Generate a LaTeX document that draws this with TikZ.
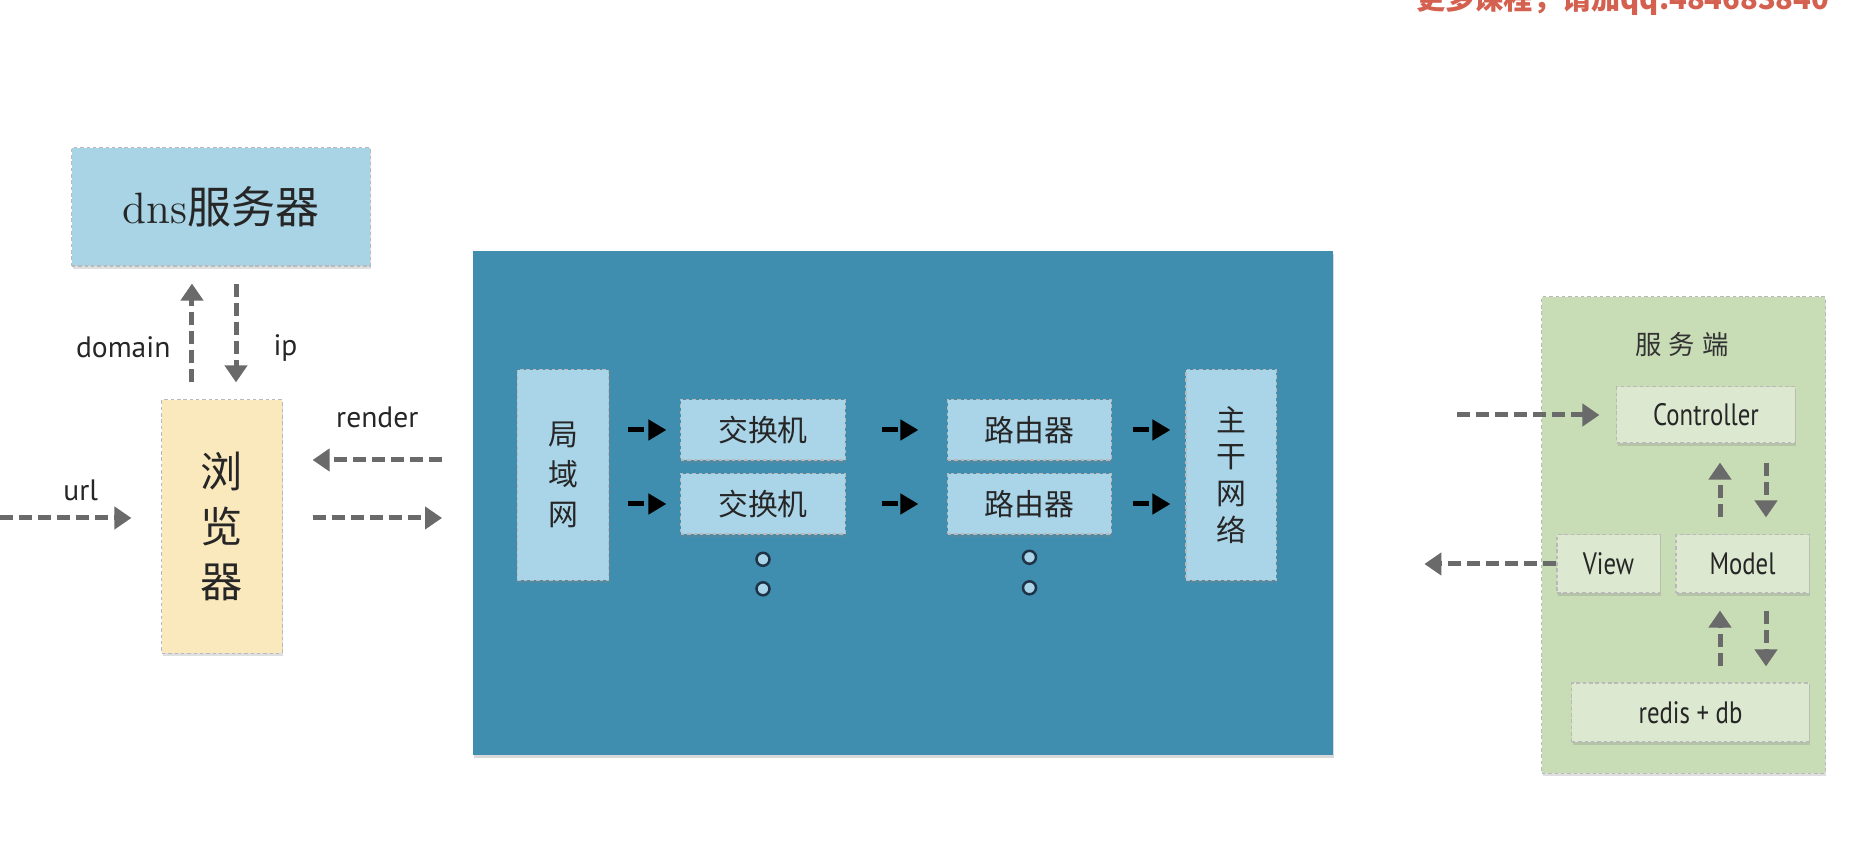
\documentclass[tikz,border=0pt]{standalone}
\usepackage{fontspec}
\newfontfamily\cjk{Noto Sans CJK SC}
\newfontfamily\lbl{PT Sans}
\newfontfamily\cond[FakeStretch=0.8]{PT Sans}
\definecolor{dnsblue}{HTML}{A8D4E6}
\definecolor{lanblue}{HTML}{AAD5E9}
\definecolor{netblue}{HTML}{408EAF}
\definecolor{browseryellow}{HTML}{FBE9BE}
\definecolor{servergreen}{HTML}{C8DCB5}
\definecolor{modulegreen}{HTML}{DCE8D0}
\definecolor{arrowgray}{HTML}{6A6A6A}
\definecolor{dotedge}{HTML}{1F3346}
\definecolor{wmred}{HTML}{D4604F}
\usetikzlibrary{arrows.meta, positioning, shadows}

\begin{document}
\begin{tikzpicture}[x=0.01cm, y=-0.01cm,
    box/.style={draw=gray!55, dash pattern=on 1pt off 0.8pt, line width=0.3pt,
       inner sep=0pt, text=black!85,
       drop shadow={opacity=0.25, shadow xshift=0.01cm, shadow yshift=-0.025cm}},
    garrow/.style={draw=arrowgray, line width=0.05cm, dash pattern=on 0.13cm off 0.06cm,
       -{Triangle[length=0.17cm, width=0.22cm]}},
    barrow/.style={draw=black, line width=0.05cm, dash pattern=on 0.16cm off 0.05cm,
       -{Triangle[length=0.18cm, width=0.2cm]}},
    lab/.style={inner sep=0pt, text=black!85, font=\lbl\fontsize{8.4pt}{10pt}\selectfont},
    cjktext/.style={font=\cjk\fontsize{8.5pt}{11.4pt}\selectfont},
    mvc/.style={box, fill=modulegreen, font=\cond\fontsize{8.8pt}{10pt}\selectfont},
    dot/.style={circle, draw=dotedge, line width=0.025cm, fill=lanblue,
       minimum size=0.13cm, inner sep=0pt}]
   \useasboundingbox (0,0) rectangle (1854,862);

   \node[anchor=base east, inner sep=0pt, text=wmred, font=\cjk\bfseries\fontsize{8.3pt}{10pt}\selectfont]
      (wm) at (1830,10) {更多课程，请加qq.484683840};

   \node[box, fill=dnsblue, minimum width=2.98cm, minimum height=1.18cm,
      font=\fontsize{12.5pt}{15pt}\selectfont] (dns) at (221,207) {dns{\cjk 服务器}};
   \node[box, fill=browseryellow, minimum width=1.20cm, minimum height=2.53cm, align=center,
      font=\cjk\fontsize{12pt}{15.6pt}\selectfont] (browser) at (222,526.5) {浏\\览\\器};

   \draw[garrow, shorten <=0.17cm, shorten >=0.17cm] ([xshift=-0.30cm]browser.north)
      -- node[lab, pos=0.39, left=0.19cm] (domain) {domain} ([xshift=-0.30cm]browser.north |- dns.south);
   \draw[garrow, shorten <=0.17cm, shorten >=0.17cm] ([xshift=0.14cm]browser.north |- dns.south)
      -- node[lab, pos=0.61, right=0.35cm] (ip) {ip} ([xshift=0.14cm]browser.north);

   \node[fill=netblue, minimum width=8.60cm, minimum height=5.04cm, inner sep=0pt,
      drop shadow={opacity=0.3, shadow xshift=0.01cm, shadow yshift=-0.03cm}] (net) at (903,503) {};

   \coordinate (req) at (0,518);
   \coordinate (rend) at (0,460);
   \draw[garrow, shorten >=0.30cm] (req) -- node[lab, above=0.15cm] (url) {url} (req -| browser.west);
   \draw[garrow, shorten <=0.30cm, shorten >=0.30cm] (req -| browser.east) -- (req -| net.west);
   \draw[garrow, shorten <=0.30cm, shorten >=0.30cm] (rend -| net.west)
      -- node[lab, above=0.30cm] (render) {render} (rend -| browser.east);

   \node[box, fill=lanblue, minimum width=0.91cm, minimum height=2.10cm, align=center,
      cjktext] (lan) at (563,475) {局\\域\\网};
   \node[box, fill=lanblue, minimum width=1.64cm, minimum height=0.60cm, cjktext] (sw1) at (763,430) {交换机};
   \node[box, fill=lanblue, minimum width=1.64cm, minimum height=0.60cm, cjktext] (sw2) at (763,504) {交换机};
   \node[box, fill=lanblue, minimum width=1.63cm, minimum height=0.60cm, cjktext] (rt1) at (1029.5,430) {路由器};
   \node[box, fill=lanblue, minimum width=1.63cm, minimum height=0.60cm, cjktext] (rt2) at (1029.5,504) {路由器};
   \node[box, fill=lanblue, minimum width=0.90cm, minimum height=2.10cm, align=center,
      font=\cjk\fontsize{8.5pt}{10.5pt}\selectfont] (core) at (1231,475) {主\\干\\网\\络};

   \node[dot, below=0.17cm of sw2] (swdot1) {};
   \node[dot, below=0.14cm of swdot1] (swdot2) {};
   \node[dot, below=0.15cm of rt2] (rtdot1) {};
   \node[dot, below=0.15cm of rtdot1] (rtdot2) {};

   \foreach \row in {1,2} {
      \draw[barrow, shorten <=0.19cm, shorten >=0.14cm] (sw\row.west -| lan.east) -- (sw\row.west);
      \draw[barrow, shorten <=0.36cm, shorten >=0.29cm] (sw\row.east) -- (rt\row.west);
      \draw[barrow, shorten <=0.21cm, shorten >=0.15cm] (rt\row.east) -- (rt\row.east -| core.west);
   }

   \node[box, fill=servergreen, minimum width=2.83cm, minimum height=4.76cm] (server) at (1683.5,535) {};
   \node[text=black!80, font=\cjk\fontsize{7.5pt}{9pt}\selectfont] (srvlbl) at (1682,345)
      {服\kern0.07cm 务\kern0.07cm 端};
   \node[mvc, minimum width=1.78cm, minimum height=0.56cm] (ctrl) at (1706,415) {Controller};
   \node[mvc, minimum width=1.03cm, minimum height=0.58cm] (view) at (1608.5,564) {View};
   \node[mvc, minimum width=1.33cm, minimum height=0.58cm] (model) at (1742.5,564) {Model};
   \node[mvc, minimum width=2.37cm, minimum height=0.59cm] (redis) at (1690.5,712.5) {redis + db};

   \coordinate (srvin) at ([xshift=-1.59cm]ctrl.west);
   \coordinate (srvout) at ([xshift=-1.32cm]view.west);
   \draw[garrow, shorten >=0.17cm] (srvin) -- (ctrl.west);
   \draw[garrow] (view.west) -- (srvout);
   \draw[garrow, shorten <=0.17cm, shorten >=0.19cm] ([xshift=-0.225cm]model.north)
      -- ([xshift=-0.225cm]model.north |- ctrl.south);
   \draw[garrow, shorten <=0.19cm, shorten >=0.17cm] ([xshift=0.235cm]model.north |- ctrl.south)
      -- ([xshift=0.235cm]model.north);
   \draw[garrow, shorten <=0.16cm, shorten >=0.17cm] ([xshift=-0.225cm]model.south |- redis.north)
      -- ([xshift=-0.225cm]model.south);
   \draw[garrow, shorten <=0.17cm, shorten >=0.16cm] ([xshift=0.235cm]model.south)
      -- ([xshift=0.235cm]model.south |- redis.north);
\end{tikzpicture}
\end{document}
